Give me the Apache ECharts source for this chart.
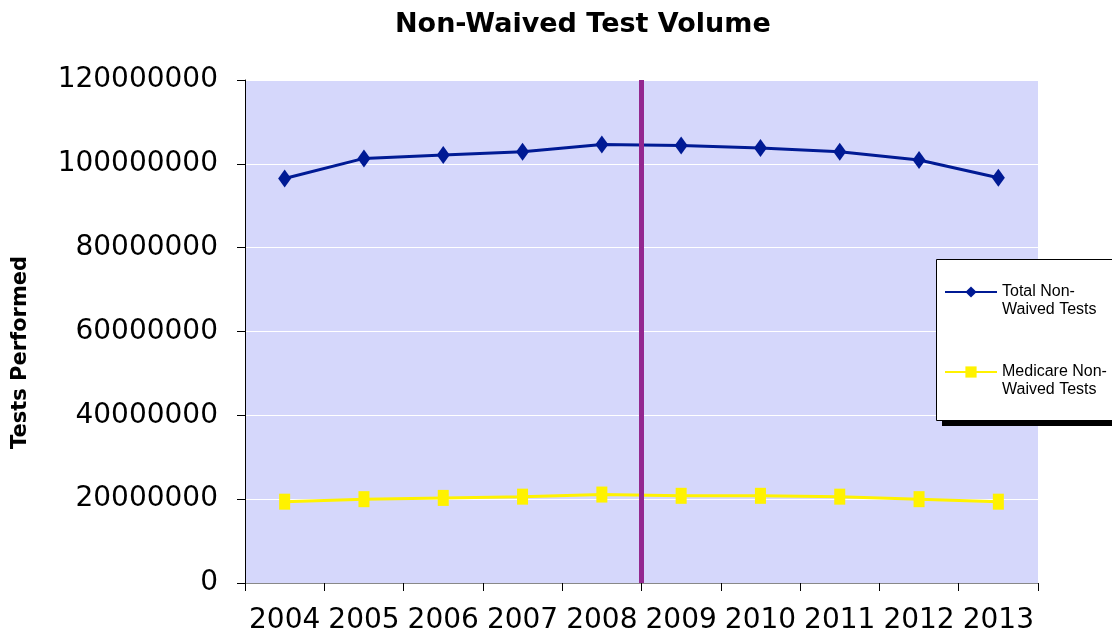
<!DOCTYPE html>
<html>
<head>
<meta charset="utf-8">
<script src="https://cdn.jsdelivr.net/npm/echarts@6/dist/echarts.min.js"></script>
<style>
  html, body { margin: 0; padding: 0; background: #fff; }
  #chart { width: 1112px; height: 634px; }
</style>
</head>
<body>
<div id="chart"></div>
<script>
// data
const years = ['2004', '2005', '2006', '2007', '2008', '2009', '2010', '2011', '2012', '2013'];
const totalTests = [96500000, 101300000, 102100000, 102900000, 104600000, 104400000, 103800000, 102900000, 100900000, 96700000];
const medicareTests = [19400000, 20000000, 20300000, 20600000, 21100000, 20800000, 20800000, 20600000, 20000000, 19400000];
const splitAt = 5; // boundary between 2008 and 2009

const chart = echarts.init(document.getElementById('chart'));

const option = {
  animation: false,
  textStyle: { fontFamily: 'DejaVu Sans' },
  title: {
    text: 'Non-Waived Test Volume',
    left: 390, top: 6,
    textStyle: { fontFamily: 'DejaVu Sans', fontWeight: 'bold', fontSize: 27, color: '#000' }
  },
  // legend frame with its drop shadow (runs off the right edge like the original)
  graphic: [
    { type: 'rect', z: 1, shape: { x: 942, y: 265, width: 200, height: 161 }, style: { fill: '#000' } },
    { type: 'rect', z: 2, shape: { x: 936.5, y: 259.5, width: 200, height: 161 }, style: { fill: '#fff', stroke: '#000', lineWidth: 1 } }
  ],
  legend: {
    orient: 'vertical',
    left: 944, top: 265,
    padding: 0,
    itemGap: 26,
    itemWidth: 52,
    itemHeight: 14,
    z: 10,
    formatter: name => '\n' + name,
    textStyle: { fontFamily: 'Liberation Sans', fontSize: 16, color: '#000', lineHeight: 18 },
    data: ['Total Non-\nWaived Tests', 'Medicare Non-\nWaived Tests']
  },
  grid: { left: 245, right: 74, top: 80, bottom: 51, outerBoundsMode: 'none', containLabel: false, backgroundColor: '#d5d7fb', show: true, borderWidth: 0 },
  xAxis: [{
    type: 'category',
    data: years,
    boundaryGap: true,
    axisLine: { lineStyle: { color: '#888', width: 1 } },
    axisTick: { show: true, interval: 0, length: 8, lineStyle: { color: '#000' } },
    axisLabel: { interval: 0, fontSize: 28, color: '#000', margin: 24 }
  }, {
    type: 'value',
    min: 0, max: years.length,
    show: false
  }],
  yAxis: {
    type: 'value',
    min: 0, max: 120000000, interval: 20000000,
    name: 'Tests Performed',
    nameLocation: 'middle',
    nameGap: 214,
    nameRotate: 90,
    nameTextStyle: { fontWeight: 'bold', fontSize: 21, color: '#000', padding: [0, 42, 0, 0] },
    axisLine: { show: true, lineStyle: { color: '#000' } },
    axisTick: { show: true, length: 8, lineStyle: { color: '#000' } },
    axisLabel: { fontSize: 28, color: '#000', margin: 27, formatter: v => String(v) },
    splitLine: { lineStyle: { color: '#fff', width: 1 } }
  },
  series: [{
    name: 'Total Non-\nWaived Tests',
    type: 'line',
    data: totalTests,
    symbol: 'diamond',
    symbolSize: [13, 18],
    itemStyle: { color: '#001a94' },
    lineStyle: { color: '#001a94', width: 3 }
  }, {
    name: 'Medicare Non-\nWaived Tests',
    type: 'line',
    data: medicareTests,
    symbol: 'rect',
    symbolSize: [11, 16],
    itemStyle: { color: '#fff200' },
    lineStyle: { color: '#fff200', width: 3 }
  }, {
    type: 'line',
    xAxisIndex: 1,
    data: [],
    silent: true,
    markLine: {
      symbol: 'none',
      label: { show: false },
      lineStyle: { color: '#93278f', width: 5, type: 'solid' },
      data: [{ xAxis: splitAt }]
    }
  }]
};

chart.setOption(option);
</script>
</body>
</html>
